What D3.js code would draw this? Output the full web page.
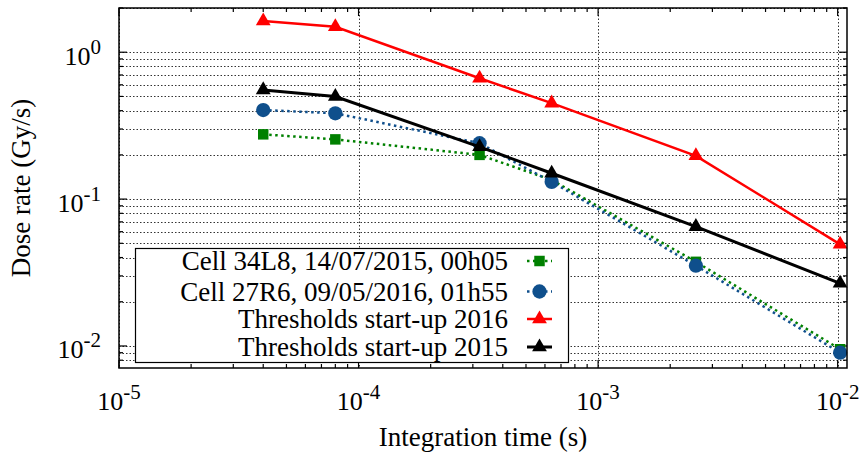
<!DOCTYPE html>
<html><head><meta charset="utf-8"><script src="https://cdn.jsdelivr.net/npm/d3@7"></script></head>
<body style="margin:0">
<svg id="chart" width="862" height="455"></svg>
<script>
// integration times (s) of the running sums
var timeS = [4e-5, 8e-5, 3.2e-4, 6.4e-4, 2.56e-3, 1.024e-2];
// dose rates (Gy/s)
var cell34L8 = [0.276, 0.255, 0.200, 0.135, 0.0374, 0.0095];
var cell27R6 = [0.404, 0.384, 0.240, 0.131, 0.0352, 0.0090];
var thr2016 = [1.63, 1.49, 0.665, 0.45, 0.197, 0.0492];
var thr2015 = [0.554, 0.499, 0.227, 0.150, 0.0649, 0.0267];

var seriesNames = ["Cell 34L8, 14/07/2015, 00h05", "Cell 27R6, 09/05/2016, 01h55",
                   "Thresholds start-up 2016", "Thresholds start-up 2015"];
var xTickExp = [-5, -4, -3, -2];
var yTickExp = [-2, -1, 0];

var FONT = "'Liberation Serif'";
var FS = 27;

var margin = {top: 8, right: 15, bottom: 87, left: 119};
var width = 862, height = 455;
var svg = d3.select("#chart").style("font-family", FONT);
var iw = width - margin.left - margin.right,
    ih = height - margin.top - margin.bottom;

var x = d3.scaleLog().domain([1e-5, 0.01094]).range([0, iw]);
var y = d3.scaleLog().domain([0.00708, 2.0]).range([ih, 0]);

var g = svg.append("g").attr("transform", "translate(" + margin.left + "," + margin.top + ")");

function txt(parent, size) {
  return parent.append("text")
    .attr("font-family", "Liberation Serif")
    .style("font-family", FONT)
    .style("font-size", size + "px");
}

// minor/major tick values
var yMinor = [], xMinor = [];
for (var e = -3; e <= 0; e++) for (var m = 1; m <= 9; m++) {
  var v = m * Math.pow(10, e);
  if (v >= y.domain()[0] && v <= y.domain()[1]) yMinor.push(v);
}
for (var e2 = -5; e2 <= -2; e2++) for (var m2 = 1; m2 <= 9; m2++) {
  var v2 = m2 * Math.pow(10, e2);
  if (v2 >= x.domain()[0] && v2 <= x.domain()[1]) xMinor.push(v2);
}

// grid: horizontal at every y tick, vertical at decades
g.append("g").selectAll("line").data(yMinor).enter().append("line")
  .attr("x1", 0).attr("x2", iw)
  .attr("y1", function(d){ return Math.round(y(d)) + 0.5; })
  .attr("y2", function(d){ return Math.round(y(d)) + 0.5; })
  .attr("stroke", "#333").attr("stroke-width", 1).attr("stroke-dasharray", "1.5,2");
g.append("g").selectAll("line").data(xTickExp.map(function(p){ return Math.pow(10, p); })).enter().append("line")
  .attr("x1", function(d){ return Math.round(x(d)) + 0.5; })
  .attr("x2", function(d){ return Math.round(x(d)) + 0.5; })
  .attr("y1", 0).attr("y2", ih)
  .attr("stroke", "#333").attr("stroke-width", 1).attr("stroke-dasharray", "1.5,2");

// ticks on all four sides, pointing inward
function isMajor(v) { var l = Math.log10(v); return Math.abs(l - Math.round(l)) < 1e-9; }
var ticks = g.append("g").attr("stroke", "#000").attr("stroke-width", 1.2);
yMinor.forEach(function(v){
  var len = isMajor(v) ? 8 : 4, yy = y(v);
  ticks.append("line").attr("x1", 0).attr("x2", len).attr("y1", yy).attr("y2", yy);
  ticks.append("line").attr("x1", iw).attr("x2", iw - len).attr("y1", yy).attr("y2", yy);
});
xMinor.forEach(function(v){
  var len = isMajor(v) ? 8 : 4, xx = x(v);
  ticks.append("line").attr("y1", ih).attr("y2", ih - len).attr("x1", xx).attr("x2", xx);
  ticks.append("line").attr("y1", 0).attr("y2", len).attr("x1", xx).attr("x2", xx);
});

// tick labels 10^n
function powLabel(sel, p) {
  sel.append("tspan").text("10");
  sel.append("tspan").attr("dy", -11).style("font-size", "21px").text(p);
}
xTickExp.forEach(function(p){
  var t = txt(g, 26).attr("x", x(Math.pow(10, p))).attr("y", ih + 42).attr("text-anchor", "middle");
  powLabel(t, p);
});
yTickExp.forEach(function(p){
  var t = txt(g, 26).attr("x", -18).attr("y", y(Math.pow(10, p)) + 12.5).attr("text-anchor", "end");
  powLabel(t, p);
});

// axis titles
txt(svg, FS).attr("x", margin.left + iw / 2).attr("y", 446)
  .attr("text-anchor", "middle").text("Integration time (s)");
txt(svg, FS).attr("transform", "translate(30," + (margin.top + ih / 2) + ") rotate(-90)")
  .attr("text-anchor", "middle").text("Dose rate (Gy/s)");

// series
var series = [
  {name: seriesNames[0], vals: cell34L8, color: "#008000", dash: "2.5,3.5", width: 2.5, sym: d3.symbolSquare, size: 110},
  {name: seriesNames[1], vals: cell27R6, color: "#0f4f8c", dash: "2.5,3.5", width: 2.5, sym: d3.symbolCircle, size: 160},
  {name: seriesNames[2], vals: thr2016, color: "#ff0000", dash: null, width: 2.5, sym: d3.symbolTriangle, size: 95},
  {name: seriesNames[3], vals: thr2015, color: "#000000", dash: null, width: 3, sym: d3.symbolTriangle, size: 95}
];

var line = d3.line().x(function(d){ return x(d[0]); }).y(function(d){ return y(d[1]); });

series.forEach(function(s){
  var pts = timeS.map(function(t, i){ return [t, s.vals[i]]; });
  g.append("path").datum(pts).attr("d", line).attr("fill", "none")
    .attr("stroke", s.color).attr("stroke-width", s.width)
    .attr("stroke-dasharray", s.dash);
  g.append("g").selectAll("path").data(pts).enter().append("path")
    .attr("transform", function(d){ return "translate(" + x(d[0]) + "," + y(d[1]) + ")"; })
    .attr("d", d3.symbol().type(s.sym).size(s.size))
    .attr("fill", s.color);
});

// frame
g.append("rect").attr("width", iw).attr("height", ih).attr("fill", "none")
  .attr("stroke", "#000").attr("stroke-width", 1.5);

// legend
var leg = svg.append("g");
leg.append("rect").attr("x", 135.5).attr("y", 248.5).attr("width", 433).attr("height", 114)
  .attr("fill", "#fff").attr("stroke", "#000").attr("stroke-width", 1.2);
var rowY = [261, 291.5, 319, 347];
series.forEach(function(s, i){
  txt(leg, FS).attr("x", 508).attr("y", rowY[i] + 9).attr("text-anchor", "end").text(s.name);
  leg.append("line").attr("x1", 527).attr("x2", 552).attr("y1", rowY[i]).attr("y2", rowY[i])
    .attr("stroke", s.color).attr("stroke-width", s.width).attr("stroke-dasharray", s.dash);
  leg.append("path").attr("transform", "translate(539.5," + rowY[i] + ")")
    .attr("d", d3.symbol().type(s.sym).size(s.size)).attr("fill", s.color);
});
</script>
</body>
</html>
